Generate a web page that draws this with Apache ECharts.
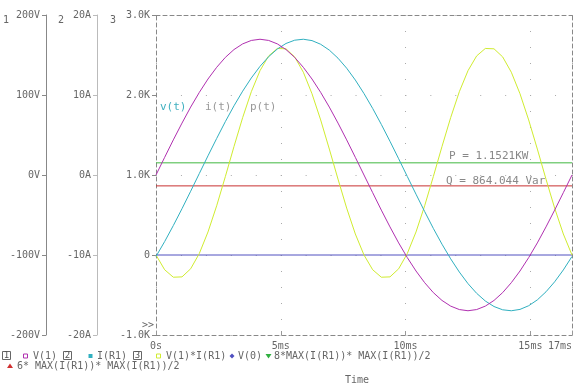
<!DOCTYPE html>
<html>
<head>
<meta charset="utf-8">
<script src="https://cdn.jsdelivr.net/npm/echarts@6/dist/echarts.min.js"></script>
<style>
html,body{margin:0;padding:0;background:#fff;}
#c{width:576px;height:388px;}
</style>
</head>
<body>
<div id="c"></div>
<script>
// time in ms
const timeMs = [0, 0.347, 0.694, 1.042, 1.389, 1.736, 2.083, 2.431, 2.778, 3.125, 3.472, 3.819,
  4.167, 4.514, 4.861, 5.208, 5.556, 5.903, 6.25, 6.597, 6.944, 7.292, 7.639, 7.986,
  8.333, 8.681, 9.028, 9.375, 9.722, 10.069, 10.417, 10.764, 11.111, 11.458, 11.806, 12.153,
  12.5, 12.847, 13.194, 13.542, 13.889, 14.236, 14.583, 14.931, 15.278, 15.625, 15.972, 16.319, 16.667];
// V(1) in volts
const v1 = [0, 22.1, 43.9, 64.9, 84.9, 103.3, 120.0, 134.6, 147.0, 156.8, 163.9, 168.2,
  169.7, 168.2, 163.9, 156.8, 147.0, 134.6, 120.0, 103.3, 84.9, 64.9, 43.9, 22.1,
  0, -22.1, -43.9, -64.9, -84.9, -103.3, -120.0, -134.6, -147.0, -156.8, -163.9, -168.2,
  -169.7, -168.2, -163.9, -156.8, -147.0, -134.6, -120.0, -103.3, -84.9, -64.9, -43.9, -22.1, 0];
// I(R1) in amps
const iR1 = [-10.18, -8.32, -6.32, -4.21, -2.03, 0.19, 2.40, 4.57, 6.67, 8.65, 10.48, 12.13,
  13.58, 14.79, 15.75, 16.44, 16.85, 16.97, 16.80, 16.34, 15.61, 14.60, 13.35, 11.87,
  10.18, 8.32, 6.32, 4.21, 2.03, -0.19, -2.40, -4.57, -6.67, -8.65, -10.48, -12.13,
  -13.58, -14.79, -15.75, -16.44, -16.85, -16.97, -16.80, -16.34, -15.61, -14.60, -13.35, -11.87, -10.18];
// V(1)*I(R1) in watts
const pVI = [0, -184.4, -277.7, -273.5, -172.3, 19.3, 288.0, 615.6, 979.8, 1355.7, 1717.7, 2041.1,
  2304.0, 2488.4, 2581.7, 2577.5, 2476.3, 2284.7, 2016.0, 1688.4, 1324.3, 948.4, 586.3, 262.9,
  0, -184.4, -277.7, -273.5, -172.3, 19.3, 288.0, 615.6, 979.8, 1355.7, 1717.7, 2041.1,
  2304.0, 2488.4, 2581.7, 2577.5, 2476.3, 2284.7, 2016.0, 1688.4, 1324.3, 948.4, 586.3, 262.9, 0];
const v0Level = 0;
const pLevel = 1152.1;   // 8*MAX(I(R1))*MAX(I(R1))/2
const qLevel = 864.044;  // 6*MAX(I(R1))*MAX(I(R1))/2
const xTicks = ['0s', '5ms', '10ms', '15ms', '17ms'];
const axis1Labels = ['-200V', '-100V', '0V', '100V', '200V'];
const axis2Labels = ['-20A', '-10A', '0A', '10A', '20A'];
const axis3Labels = ['-1.0K', '0', '1.0K', '2.0K', '3.0K'];

const FONT = 'DejaVu Sans Mono';
const LBL = '#666';
const tEnd = timeMs[timeMs.length - 1];

const chart = echarts.init(document.getElementById('c'), null, {renderer: 'canvas'});

function pairs(arr) { return timeMs.map((t, i) => [t, arr[i]]); }
function flat(v) { return [[0, v], [tEnd, v]]; }

const lineBase = {type: 'line', showSymbol: false, symbol: 'none', animation: false, smooth: false};

function sideAxis(offset, min, max, interval, labels, color) {
  return {
    type: 'value', position: 'left', offset: offset, min: min, max: max, interval: interval,
    axisLine: {show: true, onZero: false, lineStyle: {color: color, width: 1}},
    axisTick: {show: true, length: 4, lineStyle: {color: color}},
    axisLabel: {show: true, margin: 6, color: LBL, fontFamily: FONT, fontSize: 10,
      formatter: v => labels[Math.round((v - min) / interval)]},
    splitLine: {show: false}
  };
}

const g = [];
function txt(x, y, s, color, size, align) {
  g.push({type: 'text', x: x, y: y, style: {text: s, fill: color || LBL,
    font: (size || 10) + 'px "' + FONT + '"', textAlign: align || 'left', textVerticalAlign: 'middle'}});
}
function box(x, y, n) {
  g.push({type: 'rect', shape: {x: x + 0.5, y: y - 4.5, width: 8, height: 8}, style: {fill: 'none', stroke: '#666', lineWidth: 1}});
  txt(x + 4.5, y, n, '#555', 9, 'center');
}
function sq(cx, cy, color, filled) {
  g.push({type: 'rect', shape: {x: cx - 2, y: cy - 2, width: 4, height: 4},
    style: filled ? {fill: color} : {fill: 'none', stroke: color, lineWidth: 1}});
}
function poly(pts, color) {
  g.push({type: 'polygon', shape: {points: pts}, style: {fill: color}});
}

// axis numbers
txt(3, 20, '1'); txt(58, 20, '2'); txt(110, 20, '3');
// curve labels
txt(160, 107, 'v(t)', '#40b0c0', 11);
txt(205, 107, 'i(t)', '#999', 11);
txt(250, 107, 'p(t)', '#999', 11);
txt(449, 156, 'P = 1.1521KW', '#888', 11);
txt(446, 181, 'Q = 864.044 Var', '#888', 11);
txt(142, 325, '>>', '#666', 10);
// legend row 1
const r1 = 356, r2 = 366;
box(2, r1, '1'); sq(25.5, r1, '#b030b0', false); txt(33, r1, 'V(1)');
box(63, r1, '2'); sq(90.5, r1, '#30b0c0', true); txt(97, r1, 'I(R1)');
box(133, r1, '3'); sq(158.5, r1, '#d0ec30', false); txt(166, r1, 'V(1)*I(R1)');
poly([[232, r1 - 2.5], [234.5, r1], [232, r1 + 2.5], [229.5, r1]], '#5050c0'); txt(238, r1, 'V(0)');
poly([[265.5, r1 - 2], [271.5, r1 - 2], [268.5, r1 + 2.5]], '#30b040'); txt(274, r1, '8*MAX(I(R1))* MAX(I(R1))/2');
// legend row 2
poly([[7, r2 + 2], [13, r2 + 2], [10, r2 - 2.5]], '#d03030'); txt(17, r2, '6* MAX(I(R1))* MAX(I(R1))/2');
txt(357, 380, 'Time', '#666', 10, 'center');

const option = {
  animation: false,
  backgroundColor: '#fff',
  grid: {left: 156, right: 4, top: 15, bottom: 53, containLabel: false},
  xAxis: [{
    type: 'value', min: 0, max: tEnd, interval: 5, position: 'bottom',
    axisLine: {show: true, onZero: false, lineStyle: {color: '#888', type: [4, 3]}},
    axisTick: {show: true, inside: true, length: 4, lineStyle: {color: '#999'}},
    axisLabel: {show: true, margin: 6, color: LBL, fontFamily: FONT, fontSize: 10,
      showMaxLabel: true, alignMaxLabel: 'right',
      formatter: v => v > 16 ? xTicks[4] : xTicks[Math.round(v / 5)]},
    splitLine: {show: true, lineStyle: {color: '#aaa', type: [1, 15]}}
  }, {
    type: 'value', min: 0, max: tEnd, position: 'top',
    axisLine: {show: true, onZero: false, lineStyle: {color: '#888', type: [4, 3]}},
    axisTick: {show: false}, axisLabel: {show: false}, splitLine: {show: false}
  }],
  yAxis: [
    {
      type: 'value', position: 'left', offset: 0, min: -1000, max: 3000, interval: 1000,
      axisLine: {show: true, onZero: false, lineStyle: {color: '#888', type: [4, 3]}},
      axisTick: {show: true, length: 4, lineStyle: {color: '#888'}},
      axisLabel: {show: true, margin: 6, color: LBL, fontFamily: FONT, fontSize: 10,
        formatter: v => axis3Labels[Math.round((v + 1000) / 1000)]},
      splitLine: {show: true, lineStyle: {color: '#aaa', type: [1, 23.94]}}
    },
    sideAxis(59, -20, 20, 10, axis2Labels, '#bbb'),
    sideAxis(110, -200, 200, 100, axis1Labels, '#888'),
    {
      type: 'value', position: 'right', min: -1000, max: 3000,
      axisLine: {show: true, onZero: false, lineStyle: {color: '#888', type: [4, 3]}},
      axisTick: {show: false}, axisLabel: {show: false}, splitLine: {show: false}
    }
  ],
  series: [
    Object.assign({}, lineBase, {name: 'V(0)', yAxisIndex: 0, data: flat(v0Level), lineStyle: {color: '#5050c0', width: 1}}),
    Object.assign({}, lineBase, {name: 'Q', yAxisIndex: 0, data: flat(qLevel), lineStyle: {color: '#c83030', width: 1}}),
    Object.assign({}, lineBase, {name: 'P', yAxisIndex: 0, data: flat(pLevel), lineStyle: {color: '#40b840', width: 1}}),
    Object.assign({}, lineBase, {name: 'V(1)*I(R1)', yAxisIndex: 0, data: pairs(pVI), lineStyle: {color: '#d0ec30', width: 1}}),
    Object.assign({}, lineBase, {name: 'I(R1)', yAxisIndex: 1, data: pairs(iR1), lineStyle: {color: '#30b0c0', width: 1}}),
    Object.assign({}, lineBase, {name: 'V(1)', yAxisIndex: 2, data: pairs(v1), lineStyle: {color: '#b030b0', width: 1}})
  ],
  graphic: g
};
chart.setOption(option);
</script>
</body>
</html>
